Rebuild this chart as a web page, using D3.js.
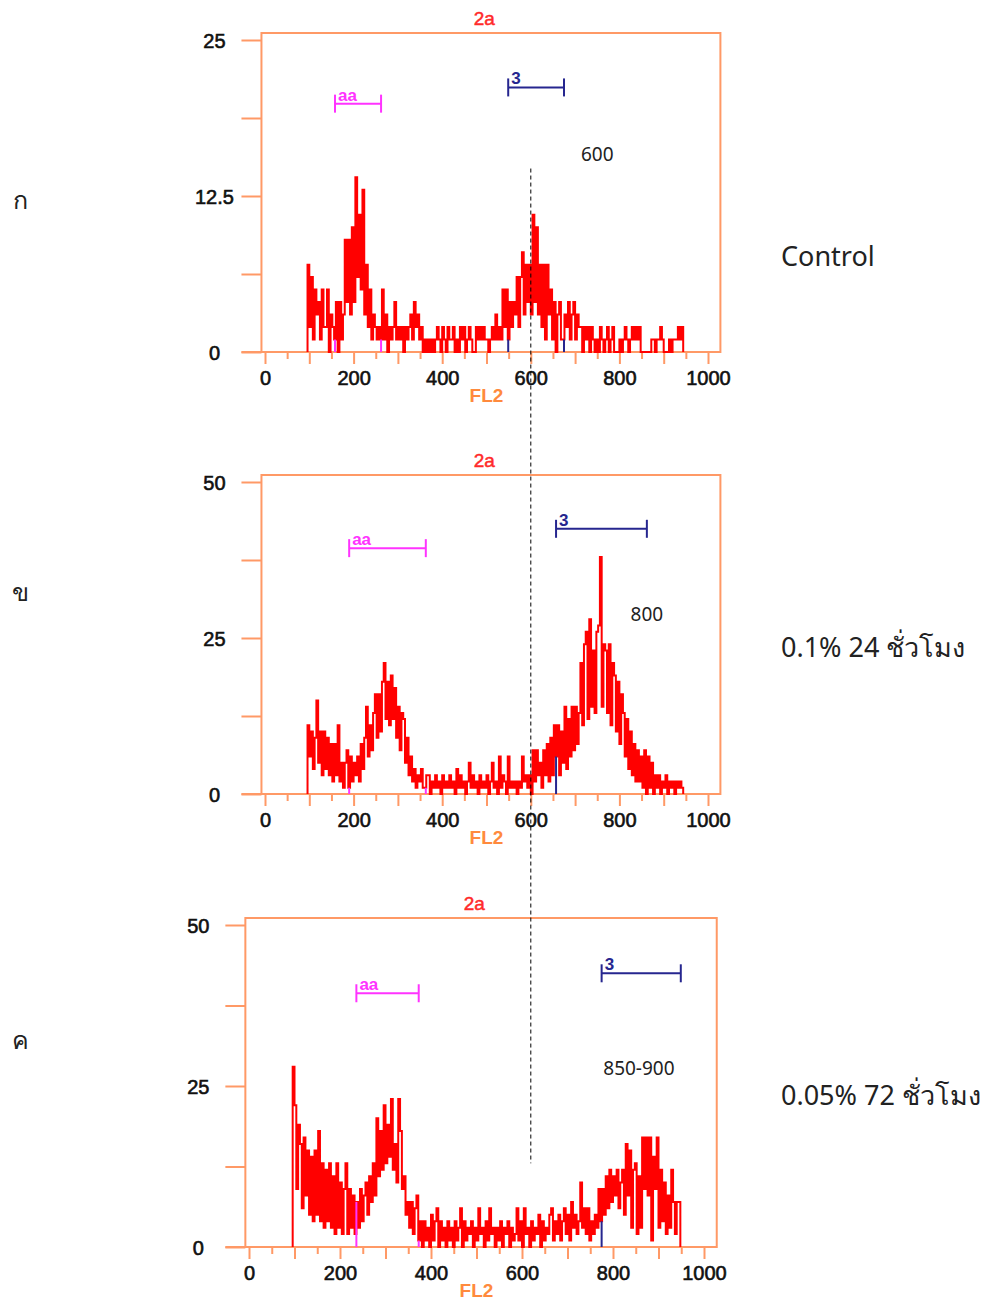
<!DOCTYPE html>
<html>
<head>
<meta charset="utf-8">
<script src="https://cdn.jsdelivr.net/npm/d3@7"></script>
<style>
  body { margin: 0; background: #fff; }
</style>
</head>
<body>
<div id="chart"></div>
<script>
// FL2 histogram channels: first channel at 96, each 4 units wide
var binStart = 96;
var binWidth = 4;

var controlCounts = [
  7,2,6,1,5,3,4,1,5,2, 2,5,0,3,2,1,4,0,4,1, 3,9,4,9,3,10,4,14,6,11,
  5,13,3,7,2,5,1,3,2,1, 2,1,5,1,3,0,2,1,2,4, 1,2,1,2,0,2,1,2,3,1,
  4,2,3,1,2,0,1,0,1,0, 1,0,1,2,1,0,2,1,0,2, 1,1,2,0,1,0,2,1,2,0,
  1,2,1,0,0,2,1,2,1,2, 1,1,0,1,2,1,3,1,2,1, 5,2,5,1,4,2,4,3,6,2,
  6,8,3,7,4,7,3,11,4,10, 3,7,2,7,1,7,3,5,1,4, 0,3,4,1,1,3,2,4,1,3,
  4,1,3,2,2,0,2,1,2,0, 2,1,0,1,0,2,1,0,1,2, 0,1,2,0,0,0,1,0,1,2,
  1,0,1,2,1,2,1,2,0,0, 0,0,0,0,1,1,0,1,1,2, 1,0,0,0,1,0,1,1,1,2,
  1,2
];

var dose24Counts = [
  11,6,10,4,9,15,5,10,3,10, 4,9,3,8,2,8,3,11,2,5, 1,5,7,1,6,2,5,3,6,2,
  8,4,9,14,6,11,7,13,16,9, 16,10,18,21,12,18,11,19,12,17, 9,14,7,13,12,5,9,3,6,2,
  4,1,3,2,4,1,1,3,3,0, 2,1,3,1,2,0,3,1,2,1, 3,1,2,0,4,1,3,1,2,0,
  2,5,1,3,1,2,0,3,1,2, 1,3,0,2,5,1,2,0,6,1, 3,2,0,6,1,2,1,2,0,2,
  1,6,2,3,1,3,0,7,2,7, 3,5,1,7,3,8,2,9,3,11, 6,11,3,10,5,14,4,12,6,14,
  7,14,8,13,21,11,24,26,12,28, 14,23,13,26,27,38,14,24,23,13, 24,11,21,19,10,18,8,16,13,6,
  12,4,10,3,8,2,7,2,6,1, 7,0,6,1,5,0,3,1,3,0, 2,1,3,0,2,1,2,0,2,1,
  2,1
];

var dose72Counts = [
  28,22,9,19,16,6,17,8,15,5, 14,4,15,5,18,4,13,3,12,4, 13,3,11,2,13,3,10,2,9,13,
  2,9,3,8,2,7,3,9,4,8, 10,5,11,7,13,8,20,11,18,12, 22,13,19,14,23,12,16,10,23,18,
  9,11,5,7,3,7,2,6,8,1, 4,0,4,1,3,0,5,1,4,6, 0,4,1,3,0,4,1,3,0,4,
  1,3,6,0,4,1,3,2,4,0, 3,1,6,2,3,0,4,1,6,2, 3,0,3,1,4,0,3,2,4,0,
  3,1,2,6,1,4,0,6,2,3, 0,4,1,3,2,5,0,4,1,3, 2,5,6,1,4,2,5,1,4,6,
  2,5,1,7,3,5,2,4,10,3, 6,2,6,1,4,2,5,3,9,4, 9,5,11,6,12,7,11,8,12,6,
  10,12,5,16,8,15,3,12,13,2, 11,3,17,9,17,8,17,1,14,9, 17,3,12,4,10,2,8,3,12,7,
  2,7,7
];

var panelLetters = ["ก", "ข", "ค"];
var panelLabels = ["Control", "0.1% 24 ชั่วโมง", "0.05% 72 ชั่วโมง"];
var peakNotes = ["600", "800", "850-900"];
var yMaxes = [25, 50, 50];
var yTickLabels = [[0, 12.5, 25], [0, 25, 50], [0, 25, 50]];
var xTickLabels = [0, 200, 400, 600, 800, 1000];
var aaGates = [[158, 262], [190, 363], [236, 373]];
var m3Gates = [[549, 675], [657, 862], [775, 949]];
var guideAt = 600;

var counts = [controlCounts, dose24Counts, dose72Counts];

var width = 985;
var height = 1302;
var orange = "#ff9966";
var tickFont = "20px 'Liberation Sans', Arial, sans-serif";

// where each plot sits on the page
var layout = [
  {x0: 265, x1000: 708, y0: 352, yTop: 40, aaLevel: 19.9, m3Level: 21.2, noteX: 750, noteY: 15.8, sideY: 257, letterY: 200},
  {x0: 265, x1000: 708, y0: 794, yTop: 482, aaLevel: 39.4, m3Level: 42.5, noteX: 862, noteY: 28.8, sideY: 648, letterY: 592},
  {x0: 249, x1000: 704, y0: 1247, yTop: 925, aaLevel: 39.4, m3Level: 42.5, noteX: 857, noteY: 27.8, sideY: 1096, letterY: 1040}
];

var svg = d3.select("#chart")
    .append("svg")
    .attr("width", width)
    .attr("height", height)
    .style("background", "#fff");

var scales = [];

layout.forEach(function(p, i) {
    var x = d3.scaleLinear().domain([0, 1000]).range([p.x0, p.x1000]);
    var y = d3.scaleLinear().domain([0, yMaxes[i]]).range([p.y0, p.yTop]);
    scales.push({x: x, y: y});

    var left = x(-8);
    var right = x(1028);
    var top = p.yTop - 7;
    var g = svg.append("g");

    // y axis ticks sit outside the frame
    var yAxis = d3.axisLeft(y)
        .tickValues(d3.range(5).map(k => yMaxes[i] * k / 4))
        .tickSize(20)
        .tickFormat(d => yTickLabels[i].indexOf(d) >= 0 ? d : "");
    var gy = g.append("g")
        .attr("transform", `translate(${left},0)`)
        .call(yAxis);
    gy.select(".domain").remove();
    gy.selectAll("line").attr("stroke", orange).attr("stroke-width", 2);
    gy.selectAll("text")
        .attr("x", -47)
        .attr("text-anchor", "middle")
        .attr("dy", "0.36em")
        .attr("fill", "#111")
        .attr("stroke", "#111")
        .attr("stroke-width", 0.6)
        .style("font", tickFont);

    var xAxis = d3.axisBottom(x)
        .tickValues(d3.range(0, 1001, 50))
        .tickSize(12)
        .tickFormat(d => xTickLabels.indexOf(d) >= 0 ? d : "");
    var gx = g.append("g")
        .attr("transform", `translate(0,${p.y0})`)
        .call(xAxis);
    gx.select(".domain").remove();
    gx.selectAll("line")
        .attr("stroke", orange)
        .attr("stroke-width", 2)
        .attr("y2", d => d % 100 === 0 ? 12 : 7);
    gx.selectAll("text")
        .attr("y", 19)
        .attr("fill", "#111")
        .attr("stroke", "#111")
        .attr("stroke-width", 0.6)
        .style("font", tickFont);

    // frame + baseline running into the 0 tick
    g.append("rect")
        .attr("x", left).attr("y", top)
        .attr("width", right - left).attr("height", p.y0 - top)
        .attr("fill", "none").attr("stroke", orange).attr("stroke-width", 2);
    g.append("line")
        .attr("x1", left - 20).attr("x2", right)
        .attr("y1", p.y0).attr("y2", p.y0)
        .attr("stroke", orange).attr("stroke-width", 2);

    g.append("text")
        .attr("x", x(495)).attr("y", top - 8)
        .attr("text-anchor", "middle")
        .attr("fill", "#ff2a2a")
        .attr("stroke", "#ff2a2a")
        .attr("stroke-width", 0.5)
        .style("font", "19px 'Liberation Sans', Arial, sans-serif")
        .text("2a");

    g.append("text")
        .attr("x", x(500)).attr("y", p.y0 + 50)
        .attr("text-anchor", "middle")
        .attr("fill", "#ff8a3d")
        .style("font", "bold 19px 'Liberation Sans', Arial, sans-serif")
        .text("FL2");

    // histogram as a step outline
    var c = counts[i];
    var pts = [[binStart, 0]];
    c.forEach(function(v, k) { pts.push([binStart + k * binWidth, v]); });
    pts.push([binStart + c.length * binWidth, 0]);

    var line = d3.line()
        .x(d => x(d[0]))
        .y(d => y(d[1]))
        .curve(d3.curveStepAfter);

    g.append("path")
        .datum(pts)
        .attr("d", line)
        .attr("fill", "none")
        .attr("stroke", "#ff0000")
        .attr("stroke-width", 2);

    // gate markers
    var gates = [
        {range: aaGates[i], level: p.aaLevel, color: "#ff33ff", name: "aa"},
        {range: m3Gates[i], level: p.m3Level, color: "#26268f", name: "3"}
    ];
    gates.forEach(function(gt) {
        var gy0 = y(gt.level);
        g.append("line")
            .attr("x1", x(gt.range[0])).attr("x2", x(gt.range[1]))
            .attr("y1", gy0).attr("y2", gy0)
            .attr("stroke", gt.color).attr("stroke-width", 2);
        g.selectAll(null)
            .data(gt.range)
            .enter()
            .append("line")
            .attr("x1", d => x(d)).attr("x2", d => x(d))
            .attr("y1", gy0 - 9).attr("y2", gy0 + 9)
            .attr("stroke", gt.color).attr("stroke-width", 2);
        // small gate lines at the histogram base
        g.selectAll(null)
            .data(gt.range)
            .enter()
            .append("line")
            .attr("x1", d => x(d)).attr("x2", d => x(d))
            .attr("y1", y(0))
            .attr("y2", d => y(c[Math.floor((d - binStart) / binWidth)] || 0))
            .attr("stroke", gt.color).attr("stroke-width", 2);
        g.append("text")
            .attr("x", x(gt.range[0]) + 3).attr("y", gy0 - 3)
            .attr("fill", gt.color)
            .style("font", "bold 17px 'Liberation Sans', Arial, sans-serif")
            .text(gt.name);
    });

    g.append("text")
        .attr("x", x(p.noteX)).attr("y", y(p.noteY))
        .attr("text-anchor", "middle")
        .attr("dy", "0.35em")
        .attr("fill", "#222")
        .style("font", "19px 'Noto Sans', 'Open Sans', sans-serif")
        .text(peakNotes[i]);

    svg.append("text")
        .attr("x", 20).attr("y", p.letterY)
        .attr("text-anchor", "middle")
        .attr("dy", "0.35em")
        .attr("fill", "#222")
        .style("font", "25px 'Noto Sans', 'DejaVu Sans', sans-serif")
        .text(panelLetters[i]);

    svg.append("text")
        .attr("x", 781).attr("y", p.sideY)
        .attr("dy", "0.35em")
        .attr("fill", "#222")
        .style("font", "27px 'Noto Sans', 'DejaVu Sans', sans-serif")
        .text(panelLabels[i]);
});

// dashed guide at FL2 = 600 running through all three plots
svg.append("line")
    .attr("x1", scales[0].x(guideAt)).attr("x2", scales[0].x(guideAt))
    .attr("y1", scales[0].y(14.7))
    .attr("y2", scales[2].y(13))
    .attr("stroke", "#000")
    .attr("stroke-width", 1)
    .attr("stroke-dasharray", "4,3");
</script>
</body>
</html>
